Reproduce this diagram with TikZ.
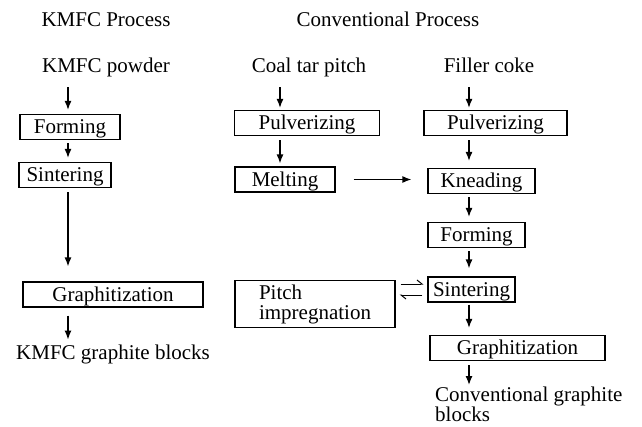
\documentclass[tikz,border=0pt]{standalone}
\usepackage{fontspec}
\setmainfont{Liberation Serif}
\usetikzlibrary{arrows.meta}

\begin{document}
\begin{tikzpicture}[
		x=1pt, y=-1pt,
		every node/.style={font=\fontsize{21}{20}\selectfont, inner sep=2pt},
		word/.style={text height=14pt, text depth=4.5pt},
		stage/.style={draw, line width=1.2pt, text height=17pt, text depth=4pt},
		flow/.style={line width=1.3pt, -{Latex[length=9pt,width=7pt]}, shorten <=4pt, shorten >=4pt},
		back/.style={line width=1pt, -{Straight Barb[left,length=5pt,width=8pt]}, shorten <=5pt, shorten >=4pt}
		]
		\useasboundingbox (0,0) rectangle (642,426);
		\coordinate (lc) at (68,0);
		\coordinate (mc) at (280,0);
		\coordinate (rc) at (469,0);
		\node[word] (kmfc) at (106,22) {KMFC Process};
		\node[word] (conv) at (388,22) {Conventional Process};
		\node[word] (powder) at (106,68) {KMFC powder};
		\node[stage, minimum width=100pt, minimum height=20pt] (form1) at (70,127) {Forming};
		\node[stage, minimum width=92pt, minimum height=22pt] (sint1) at (65,175) {Sintering};
		\node[stage, minimum width=180pt, minimum height=24pt] (graph1) at (113,294.5) {Graphitization};
		\node[word] (blocks1) at (113,355) {KMFC graphite blocks};
		\node[word] (coal) at (309,68) {Coal tar pitch};
		\node[stage, minimum width=145pt, minimum height=21pt] (pulv1) at (307,123) {Pulverizing};
		\node[stage, minimum width=100pt, minimum height=22pt] (melt) at (285,179.5) {Melting};
		\node[draw, line width=1.2pt, align=left, minimum width=160pt, minimum height=47pt] (pitch) at (315,304) {Pitch\\impregnation};
		\node[word] (filler) at (489,68) {Filler coke};
		\node[stage, minimum width=143pt, minimum height=22pt] (pulv2) at (495.5,123) {Pulverizing};
		\node[stage, minimum width=107pt, minimum height=22pt] (knead) at (481.5,181) {Kneading};
		\node[stage, minimum width=97pt, minimum height=20pt] (form2) at (476.5,235) {Forming};
		\node[stage, minimum width=87pt, minimum height=23pt] (sint2) at (471.5,289.5) {Sintering};
		\node[stage, minimum width=175pt, minimum height=21pt] (graph2) at (517.5,348) {Graphitization};
		\node[anchor=north west, align=left] (blocks2) at (433,385) {Conventional graphite\\blocks};
		\draw[flow, shorten <=8pt] (powder.south -| lc) -- (form1.north -| lc);
		\draw[flow, shorten <=3pt] (form1.south -| lc) -- (sint1.north -| lc);
		\draw[flow, shorten >=15pt] (sint1.south -| lc) -- (graph1.north -| lc);
		\draw[flow, shorten <=8pt] (graph1.south -| lc) -- (blocks1.north -| lc);
		\draw[flow, shorten <=8pt, shorten >=2pt] (coal.south -| mc) -- (pulv1.north -| mc);
		\draw[flow, shorten >=3pt] (pulv1.south -| mc) -- (melt.north -| mc);
		\draw[flow, shorten <=18pt, shorten >=16pt] (melt.east) -- (melt.east -| knead.west);
		\draw[flow, shorten <=8pt, shorten >=2pt] (filler.south -| rc) -- (pulv2.north -| rc);
		\draw[flow, shorten >=7pt] (pulv2.south -| rc) -- (knead.north -| rc);
		\draw[flow, shorten <=3pt, shorten >=5pt] (knead.south -| rc) -- (form2.north -| rc);
		\draw[flow, shorten <=3pt, shorten >=8pt] (form2.south -| rc) -- (sint2.north -| rc);
		\draw[flow, shorten <=2pt, shorten >=7pt] (sint2.south -| rc) -- (graph2.north -| rc);
		\draw[flow, shorten >=0pt] (graph2.south -| rc) -- (blocks2.north -| rc);
		\draw[back] ([yshift=5.5pt]sint2.west -| pitch.east) -- ([yshift=5.5pt]sint2.west);
		\draw[back] ([yshift=-5.5pt]sint2.west) -- ([yshift=-5.5pt]sint2.west -| pitch.east);
\end{tikzpicture}
\end{document}
